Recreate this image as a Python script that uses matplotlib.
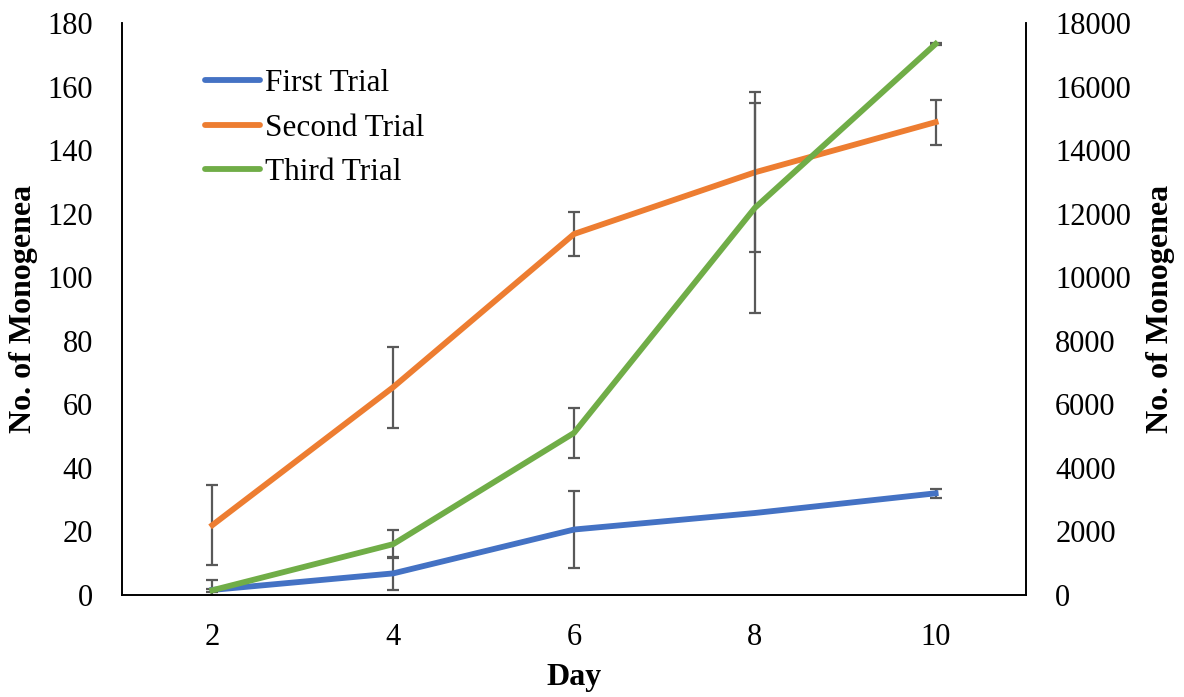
import matplotlib
matplotlib.use("Agg")
import matplotlib.pyplot as plt
import numpy as np
from matplotlib.lines import Line2D

days = [2, 4, 6, 8, 10]
first_trial = [1.6, 6.8, 20.6, 25.8, 32.0]
first_err = [3.0, 5.3, 12.0, np.nan, 1.5]
second_trial = [22.0, 65.4, 113.6, 133.0, 148.8]
second_err = [12.7, 12.7, 7.0, 25.2, 7.1]
third_trial = [150, 1600, 5100, 12180, 17340]
third_err = [50, 430, 800, 3300, 30]

plt.rcParams['font.family'] = ['Liberation Serif', 'DejaVu Serif']

fig = plt.figure(figsize=(11.84, 6.97), dpi=100)
ax1 = fig.add_axes([122/1184, 1-595/697, (1026-122)/1184, (595-23)/697])
ax2 = ax1.twinx()

ecol = '#595959'
ekw = dict(ecolor=ecol, elinewidth=1.6, capsize=4.5, capthick=1.6)
lw = 4.2

l1 = ax1.errorbar(days, first_trial, yerr=first_err, color='#4472C4', lw=lw, **ekw)
l2 = ax1.errorbar(days, second_trial, yerr=second_err, color='#ED7D31', lw=lw, **ekw)
l3 = ax2.errorbar(days, third_trial, yerr=third_err, color='#70AD47', lw=lw, **ekw)

ax1.set_xlim(1, 11)
ax1.set_ylim(0, 180)
ax2.set_ylim(0, 18000)
ax1.set_xticks(days)
ax1.set_yticks(range(0, 181, 20))
ax2.set_yticks(range(0, 18001, 2000))

for ax in (ax1, ax2):
    ax.spines['top'].set_visible(False)
    for s in ax.spines.values():
        s.set_color('black')
        s.set_linewidth(1.2)
    ax.tick_params(axis='both', length=0, labelsize=22, pad=21)
ax1.tick_params(axis='x', pad=20)

ax1.set_xlabel('Day', fontsize=23, fontweight='bold')
ax1.xaxis.set_label_coords((574-122)/904, (595-678)/572)
ax1.xaxis.label.set_va('center')
ax1.set_ylabel('No. of Monogenea', fontsize=23, fontweight='bold')
ax1.yaxis.set_label_coords((24-122)/904, 0.5)
ax1.yaxis.label.set_va('center')
ax2.set_ylabel('No. of Monogenea', fontsize=23, fontweight='bold')
ax2.yaxis.set_label_coords((1160-122)/904, 0.5)
ax2.yaxis.label.set_va('center')

hs = [Line2D([], [], color=c, lw=lw, solid_capstyle='round')
      for c in ('#4472C4', '#ED7D31', '#70AD47')]
ax1.legend(hs, ['First Trial', 'Second Trial', 'Third Trial'], loc='upper left',
           bbox_to_anchor=((205-122)/904, (595-69)/572), frameon=False, fontsize=22.5,
           handlelength=1.75, handletextpad=0.18, labelspacing=0.5,
           borderpad=0, borderaxespad=0)

fig.savefig('out.png', dpi=100)
